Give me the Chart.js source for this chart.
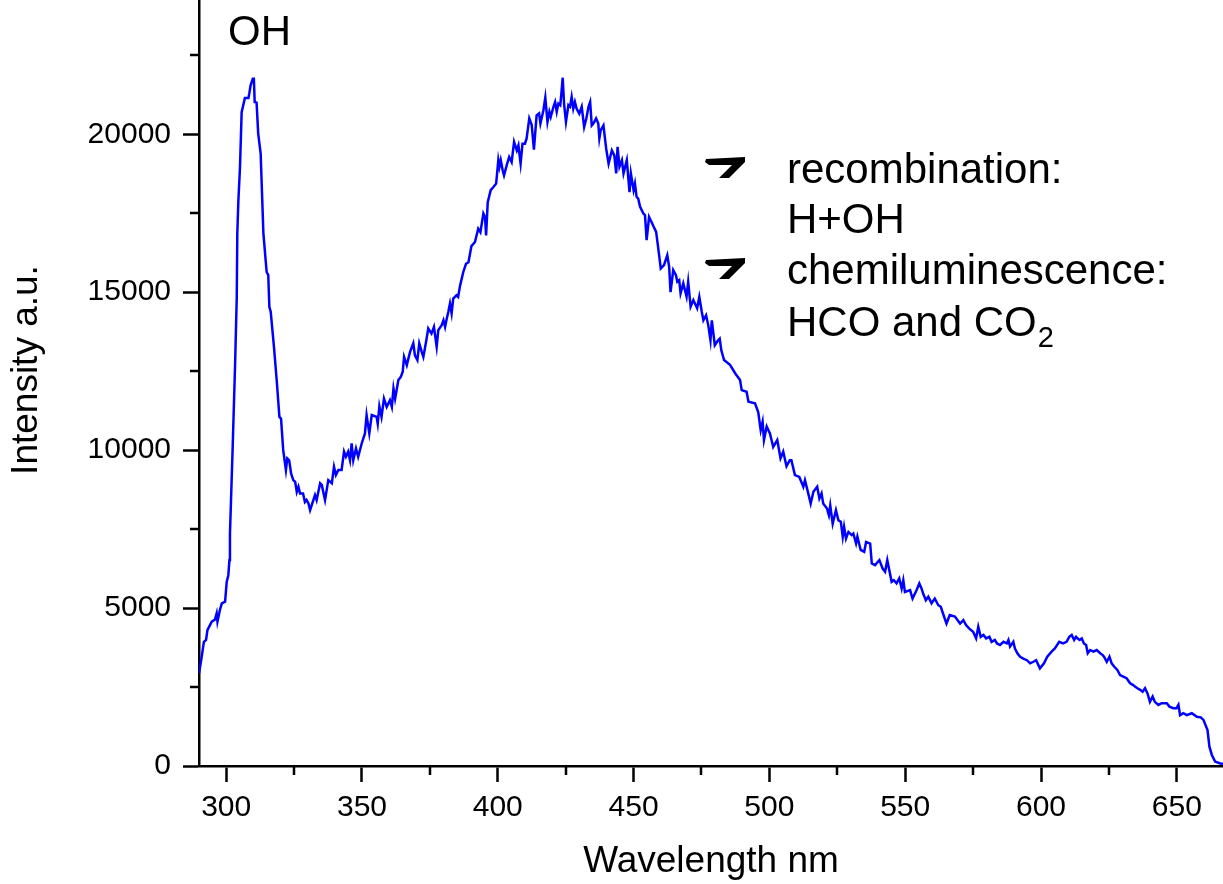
<!DOCTYPE html>
<html>
<head>
<meta charset="utf-8">
<title>OH spectrum</title>
<script src="https://cdn.jsdelivr.net/npm/chart.js@4.4.1/dist/chart.umd.min.js"></script>
<style>
  html, body { margin: 0; padding: 0; background: #fff; }
  #wrap { width: 1223px; height: 884px; }
</style>
</head>
<body>
<div id="wrap"><canvas id="spectrum" width="1223" height="884"></canvas></div>
<script>
// values (nm, a.u.)
const wavelength = [
  290.0, 291.0, 291.8, 292.6, 293.1, 294.7, 295.9, 296.5, 296.8, 297.7, 298.4, 299.6, 300.2, 300.8, 301.2, 301.4,
  302.4, 303.3, 303.9, 304.1, 304.5, 305.1, 305.7, 306.9, 308.2, 308.5, 309.0, 309.8, 310.2, 310.5, 311.2, 311.8,
  312.7, 313.7, 314.9, 315.5, 315.9, 316.4, 317.6, 318.6, 319.6, 320.2, 321.0, 322.0, 322.5, 323.2, 323.9, 324.7,
  325.4, 326.0, 326.6, 327.2, 328.3, 329.0, 329.6, 330.3, 330.9, 332.1, 332.7, 333.3, 334.6, 335.2, 336.4, 337.6,
  338.9, 339.7, 340.4, 341.3, 342.5, 343.4, 344.1, 344.9, 345.6, 346.2, 346.8, 347.8, 348.6, 349.9, 351.1, 351.7,
  352.7, 353.6, 355.4, 355.8, 356.4, 357.2, 358.1, 359.1, 360.3, 361.0, 361.6, 362.2, 363.4, 364.3, 365.0, 365.5,
  366.5, 367.7, 368.9, 369.5, 370.4, 371.1, 372.0, 372.6, 373.6, 374.4, 375.6, 376.5, 377.5, 378.1, 379.3, 380.0,
  380.6, 381.2, 381.8, 382.4, 383.0, 383.6, 384.8, 385.4, 386.1, 387.3, 388.3, 389.2, 390.3, 391.6, 392.8, 393.6,
  394.7, 395.3, 395.7, 396.3, 397.4, 398.4, 399.4, 400.2, 400.6, 401.1, 401.8, 402.3, 403.3, 404.2, 405.1, 406.0,
  407.0, 407.6, 408.4, 409.1, 410.0, 410.6, 411.6, 412.5, 413.3, 414.3, 415.2, 415.7, 416.8, 417.5, 418.3, 419.0,
  419.5, 420.5, 421.1, 421.7, 422.3, 423.0, 423.4, 423.9, 424.4, 425.1, 426.0, 426.6, 427.2, 427.8, 428.4, 429.0,
  430.0, 430.9, 431.8, 432.6, 433.4, 434.0, 434.6, 435.2, 436.2, 437.0, 437.4, 437.9, 438.9, 439.9, 440.8, 441.4,
  442.0, 442.9, 443.6, 444.1, 444.8, 445.7, 446.3, 447.5, 448.5, 449.0, 450.0, 450.5, 451.1, 451.7, 452.4, 453.6,
  454.2, 454.8, 455.7, 456.6, 457.4, 458.3, 459.1, 460.0, 461.2, 462.4, 463.1, 463.6, 464.6, 465.6, 466.1, 466.8,
  467.3, 468.3, 468.9, 469.5, 470.1, 471.0, 472.0, 473.4, 474.2, 475.1, 475.7, 476.7, 477.5, 478.3, 478.8, 479.9,
  481.1, 481.7, 482.3, 483.3, 485.5, 487.5, 489.2, 489.8, 491.6, 492.3, 494.7, 495.9, 496.8, 497.5, 498.0, 499.0,
  500.2, 501.4, 502.9, 504.1, 505.1, 506.3, 507.5, 508.1, 509.4, 511.0, 512.5, 513.1, 514.3, 515.2, 516.2, 517.6,
  518.4, 519.2, 519.8, 521.2, 521.9, 522.4, 523.3, 524.5, 525.4, 526.3, 527.0, 527.5, 528.2, 529.1, 530.3, 530.9,
  531.9, 532.4, 533.6, 534.9, 535.6, 537.1, 537.7, 538.9, 540.5, 541.7, 542.6, 543.4, 545.0, 545.8, 546.8, 547.8,
  548.7, 549.3, 549.9, 551.8, 552.7, 553.6, 554.2, 555.2, 556.0, 556.6, 557.6, 558.5, 559.7, 560.9, 562.2, 563.1,
  564.1, 565.2, 566.4, 568.3, 570.2, 571.4, 572.4, 573.6, 575.0, 576.1, 576.9, 577.8, 578.8, 579.8, 581.0, 581.8,
  583.0, 583.8, 584.9, 586.2, 587.4, 588.0, 588.6, 589.8, 590.4, 591.3, 592.3, 593.5, 594.8, 596.0, 597.2, 598.2,
  599.6, 601.1, 602.3, 603.9, 605.1, 606.7, 608.1, 609.4, 610.4, 611.3, 612.2, 612.9, 613.4, 614.2, 615.0, 615.8,
  616.6, 617.2, 618.1, 619.3, 620.5, 621.8, 622.7, 623.2, 624.2, 625.2, 626.0, 626.9, 628.1, 629.1, 630.3, 631.5,
  632.8, 633.8, 634.7, 635.5, 636.5, 637.4, 638.3, 639.2, 640.1, 641.1, 641.9, 643.2, 644.4, 646.3, 647.3, 648.7,
  649.9, 650.6, 651.2, 652.4, 653.7, 655.5, 657.4, 658.8, 659.8, 661.3, 662.0, 662.9, 664.1, 666.0, 667.0
]
const intensity = [
  2930, 3460, 3930, 3990, 4300, 4570, 4640, 4830, 4570, 4940, 5150, 5200, 5830, 6040, 6520, 7360,
  10100, 12750, 14850, 16850, 17900, 18970, 20700, 21150, 21150, 21280, 21550, 21760, 21760, 21020, 21000, 20020,
  19390, 16870, 15640, 15540, 14540, 14380, 13270, 12220, 11050, 11000, 10000, 9370, 9740, 9680, 9260, 9050,
  9000, 8680, 8840, 8630, 8630, 8360, 8420, 8310, 8100, 8420, 8580, 8420, 8950, 8900, 8420, 9050,
  8950, 9470, 9210, 9370, 9370, 9950, 9790, 9950, 9680, 10210, 9680, 10050, 9790, 10210, 10530, 11110,
  10530, 11110, 11050, 10840, 11390, 11050, 11630, 11370, 11580, 11370, 11950, 11630, 12220, 12320, 12480, 12950,
  12690, 13110, 13380, 13000, 12850, 13380, 13110, 12950, 13430, 13850, 13690, 13900, 13270, 13800, 13950, 14110,
  13900, 14160, 14380, 14640, 14330, 14800, 14900, 14850, 15200, 15640, 15900, 15950, 16460, 16590, 17010, 16900,
  17490, 17380, 16800, 17850, 18230, 18330, 18440, 19180, 18970, 19180, 18860, 18700, 19020, 19280, 19120, 19760,
  19490, 19650, 19070, 19700, 19700, 19860, 20500, 20290, 19510, 20600, 20660, 20340, 20760, 21160, 20390, 20710,
  20550, 20870, 21020, 20710, 20970, 20920, 21280, 21790, 20970, 20390, 20920, 20870, 21180, 20810, 21020, 20810,
  20650, 20870, 20230, 20500, 20870, 21020, 20280, 20340, 20500, 20340, 19870, 20130, 20280, 19550, 19070, 19280,
  19490, 19330, 18760, 19600, 18970, 19180, 18760, 19180, 18170, 18760, 18230, 18440, 18020, 17960, 17700, 17490,
  17440, 16650, 17380, 17220, 17070, 16910, 16380, 15750, 15860, 16170, 15800, 15000, 15700, 15540, 15330, 15380,
  14960, 15280, 15070, 14860, 15330, 14540, 14750, 14490, 14850, 14380, 14110, 14270, 13950, 13480, 14110, 13320,
  13480, 13530, 13160, 12850, 12700, 12420, 12220, 11900, 11850, 11530, 11480, 11200, 10630, 10900, 10320, 10750,
  10530, 10100, 10320, 9740, 9950, 9490, 9680, 9680, 9210, 9150, 8840, 9050, 8630, 8310, 8680, 8840,
  8470, 8630, 8310, 8150, 7940, 8250, 7670, 8100, 7780, 7730, 7260, 7570, 7200, 7410, 7310, 7360,
  7050, 7260, 6840, 6780, 7090, 7040, 6410, 6360, 6520, 6250, 6150, 6520, 5830, 5880, 5780, 5940,
  5620, 5880, 5510, 5570, 5300, 5460, 5570, 5780, 5620, 5460, 5250, 5360, 5150, 5300, 5090, 5040,
  4780, 4510, 4780, 4730, 4510, 4620, 4460, 4350, 4250, 4040, 4410, 4090, 4150, 4040, 4090, 3930,
  3990, 3880, 3830, 3930, 3880, 3990, 3780, 3930, 3720, 3570, 3460, 3400, 3350, 3250, 3300, 3350,
  3090, 3250, 3460, 3620, 3720, 3930, 3880, 3930, 4090, 4150, 3990, 4090, 4040, 3990, 4040, 3880,
  3830, 3570, 3670, 3620, 3670, 3570, 3510, 3460, 3300, 3460, 3250, 3150, 3040, 2880, 2830, 2780,
  2620, 2570, 2510, 2460, 2410, 2350, 2460, 2300, 2030, 2200, 2030, 1930, 1990, 1990, 1880, 1830,
  1830, 1940, 1610, 1670, 1610, 1670, 1560, 1540, 1460, 1140, 610, 350, 140, 80, 70
]

const xTicks = [300, 350, 400, 450, 500, 550, 600, 650]
const xMinorTicks = [325, 375, 425, 475, 525, 575, 625]
const yTicks = [0, 5000, 10000, 15000, 20000]
const yMinorTicks = [2500, 7500, 12500, 17500, 22500]

const fontFamily = "'Liberation Sans', Arial, Helvetica, sans-serif"
Chart.defaults.font.family = fontFamily
Chart.defaults.color = "#000"

let points = []
for (let i = 0; i < wavelength.length; i++) {
    points.push({x: wavelength[i], y: intensity[i]})
}

// short minor ticks, the long ones come from the scales
const minorTicks = {
    id: "minorTicks",
    afterDraw(chart) {
        let ctx = chart.ctx
        let xs = chart.scales.x
        let ys = chart.scales.y
        ctx.save()
        ctx.strokeStyle = "#000"
        ctx.lineWidth = 2.5
        ctx.beginPath()
        xMinorTicks.forEach(v => {
            let px = Math.round(xs.getPixelForValue(v))
            ctx.moveTo(px, ys.bottom)
            ctx.lineTo(px, ys.bottom + 9)
        })
        yMinorTicks.forEach(v => {
            let py = Math.round(ys.getPixelForValue(v))
            ctx.moveTo(xs.left, py)
            ctx.lineTo(xs.left - 9, py)
        })
        ctx.stroke()
        ctx.restore()
    }
}

// y title (sits a bit above the axis middle), "OH" label and the two legend rows
const notes = {
    id: "notes",
    afterDraw(chart) {
        let ctx = chart.ctx
        let area = chart.chartArea
        ctx.save()
        ctx.fillStyle = "#000"

        ctx.save()
        ctx.translate(27, 370)
        ctx.rotate(-Math.PI / 2)
        ctx.textAlign = "center"
        ctx.textBaseline = "middle"
        ctx.font = "37px " + fontFamily
        ctx.fillText("Intensity a.u.", 0, 0)
        ctx.restore()

        ctx.textBaseline = "alphabetic"
        ctx.textAlign = "left"
        ctx.font = "42px " + fontFamily
        ctx.fillText("OH", area.left + 29, 45)

        let tx = area.left + 588
        ctx.fillText("recombination:", tx, 183)
        ctx.fillText("H+OH", tx, 233)
        ctx.fillText("chemiluminescence:", tx, 284)
        let base = "HCO and CO"
        ctx.fillText(base, tx, 336)
        let w = ctx.measureText(base).width
        ctx.font = "29px " + fontFamily
        ctx.fillText("2", tx + w + 1, 347)

        // legend glyphs
        let sx = area.left + 506
        ;[157, 258].forEach(sy => {
            ctx.beginPath()
            ctx.moveTo(sx + 1, sy + 2)
            ctx.lineTo(sx + 40, sy)
            ctx.lineTo(sx + 40, sy + 5)
            ctx.lineTo(sx + 24, sy + 21)
            ctx.lineTo(sx + 14, sy + 21)
            ctx.lineTo(sx + 27, sy + 8)
            ctx.lineTo(sx + 4, sy + 8)
            ctx.lineTo(sx, sy + 5)
            ctx.closePath()
            ctx.fill()
        })
        ctx.restore()
    }
}

let chart = new Chart(document.getElementById("spectrum"), {
    type: "line",
    data: {
        datasets: [{
            data: points,
            borderColor: "#0000ff",
            borderWidth: 2.5,
            pointRadius: 0,
            tension: 0,
            fill: false
        }]
    },
    options: {
        responsive: false,
        animation: false,
        devicePixelRatio: 1,
        layout: {padding: 0},
        plugins: {legend: {display: false}, tooltip: {enabled: false}},
        scales: {
            x: {
                type: "linear",
                min: 290,
                max: 667,
                afterBuildTicks: scale => { scale.ticks = xTicks.map(v => ({value: v})) },
                afterFit: scale => {
                    scale.height = 118
                    scale.paddingLeft = 0
                    scale.paddingRight = 0
                },
                border: {display: true, color: "#000", width: 2.5},
                grid: {drawOnChartArea: false, drawTicks: true, tickLength: 16, tickWidth: 2.5, tickColor: "#000"},
                ticks: {autoSkip: false, maxRotation: 0, padding: 8, font: {size: 30}, color: "#000"},
                title: {display: true, text: "Wavelength nm", font: {size: 37}, color: "#000", padding: {top: 0, bottom: 0}}
            },
            y: {
                min: 0,
                max: 24250,
                afterBuildTicks: scale => { scale.ticks = yTicks.map(v => ({value: v})) },
                afterFit: scale => {
                    scale.width = 199
                    scale.paddingTop = 0
                    scale.paddingBottom = 0
                },
                border: {display: true, color: "#000", width: 2.5},
                grid: {drawOnChartArea: false, drawTicks: true, tickLength: 16, tickWidth: 2.5, tickColor: "#000"},
                ticks: {padding: 12, font: {size: 30}, color: "#000", callback: v => String(v)},
                title: {display: false}
            }
        }
    },
    plugins: [minorTicks, notes]
})
</script>
</body>
</html>
